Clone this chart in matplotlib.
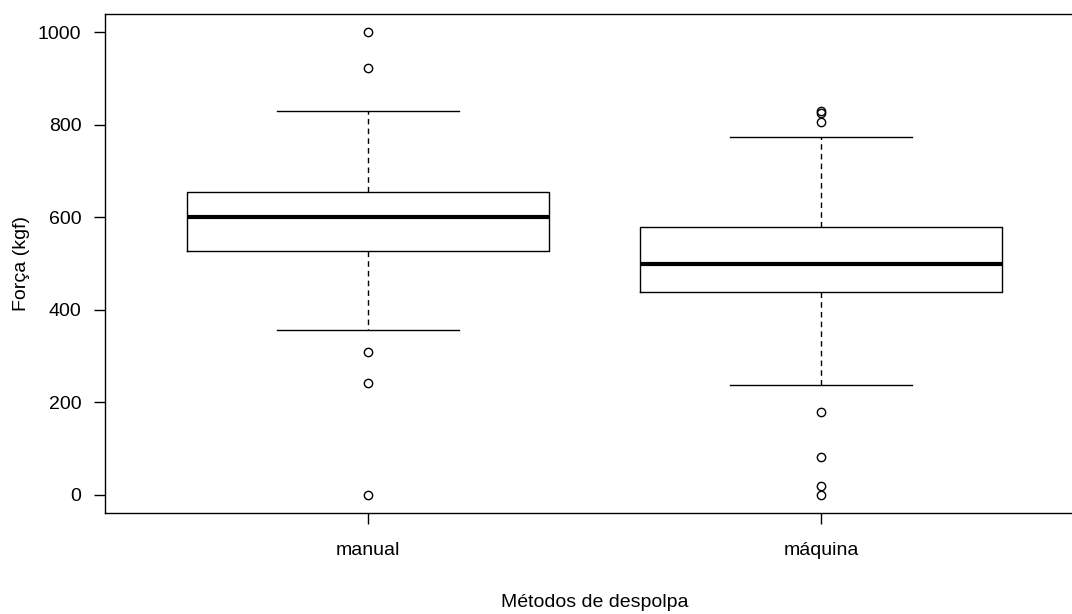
import matplotlib
matplotlib.use("Agg")
import matplotlib.pyplot as plt

plt.rcParams['font.family'] = ['Liberation Sans', 'DejaVu Sans']

# Summary values
categories = ["manual", "máquina"]
q1 = [527, 438]
medians = [600, 498]
q3 = [655, 578]
whis_lo = [356, 236]
whis_hi = [829, 774]
outliers = [
    [1000, 923, 308, 242, 0],
    [829, 825, 806, 178, 81, 19, 0],
]

stats = []
for i, name in enumerate(categories):
    stats.append({
        "label": name,
        "q1": q1[i], "med": medians[i], "q3": q3[i],
        "whislo": whis_lo[i], "whishi": whis_hi[i],
        "fliers": outliers[i],
    })

fig = plt.figure(figsize=(10.72, 6.14), dpi=100)
# right edge of the box runs past the picture, as in the original
ax = fig.add_axes([105 / 1072, 1 - 513 / 614, 979 / 1072, 499 / 614])

ax.bxp(stats, positions=[1, 2], widths=0.8, capwidths=0.4,
       boxprops=dict(color="black", linewidth=1),
       medianprops=dict(color="black", linewidth=3, solid_capstyle="butt"),
       whiskerprops=dict(color="black", linewidth=1, linestyle=(0, (4, 3))),
       capprops=dict(color="black", linewidth=1),
       flierprops=dict(marker="o", markerfacecolor="none", markeredgecolor="black",
                       markersize=6, markeredgewidth=1))

ax.set_xlim(0.42, 2.58)
ax.set_ylim(-40, 1040)
ax.set_yticks([0, 200, 400, 600, 800, 1000])
ax.set_xticks([1, 2])
ax.set_xticklabels(categories)
ax.tick_params(axis="both", direction="out", length=8, width=1, labelsize=14, pad=9)
ax.tick_params(axis="x", pad=13)
for s in ax.spines.values():
    s.set_linewidth(1)
    s.set_color("black")

ax.set_ylabel("Força (kgf)", fontsize=14, labelpad=6)
ax.set_xlabel("Métodos de despolpa", fontsize=14, labelpad=25)

fig.savefig("out.png", dpi=100)
